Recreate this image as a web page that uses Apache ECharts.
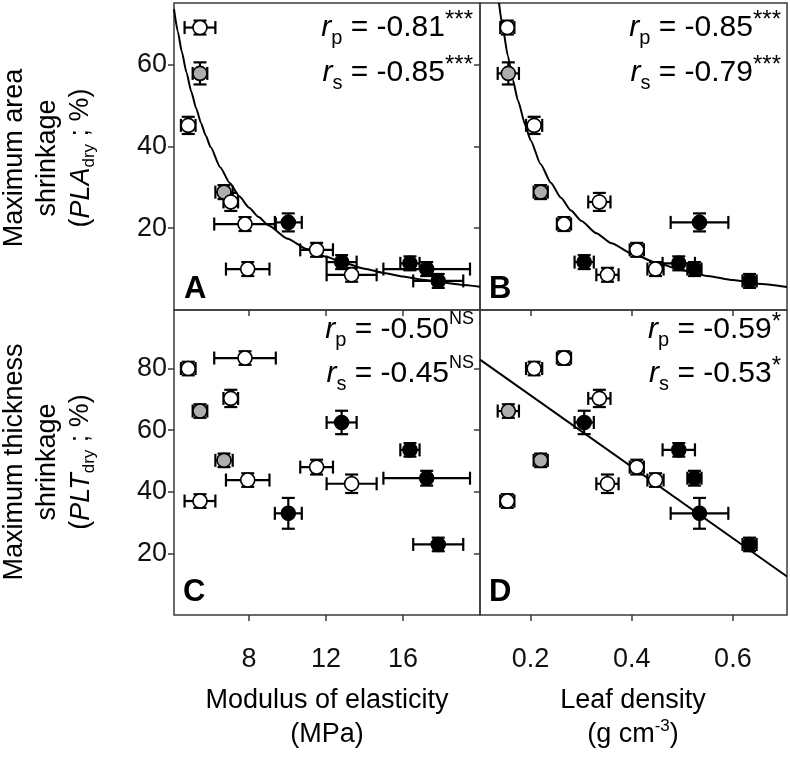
<!DOCTYPE html>
<html><head><meta charset="utf-8">
<script src="https://cdn.jsdelivr.net/npm/echarts@6/dist/echarts.min.js"></script>
<style>html,body{margin:0;padding:0;background:#fff}#c{width:790px;height:759px}</style>
</head><body><div id="c"></div>
<script>
// ---- data (one entry per species) ----
const fillType   = ['open','gray','open','gray','open','open','black','open','open','black','open','black','black','black'];
const moe        = [5.45, 5.45, 4.84, 6.70, 7.05, 7.79, 10.04, 7.93, 11.51, 12.81, 13.33, 16.36, 17.23, 17.83];
const moeErr     = [0.80, 0.38, 0.38, 0.45, 0.38, 1.60, 0.70, 1.13, 0.85, 0.78, 1.30, 0.50, 2.25, 1.30];
const density    = [0.154,0.156,0.207,0.220,0.336,0.266,0.534,0.447,0.410,0.306,0.352,0.493,0.524,0.633];
const densityErr = [0.014,0.021,0.016,0.014,0.022,0.014,0.057,0.016,0.014,0.019,0.022,0.032,0.014,0.014];
const pla        = [69.0, 57.8, 45.1, 28.8, 26.4, 21.0, 21.4, 10.0, 14.7, 11.7, 8.6, 11.4, 10.0, 7.1];
const plaErr     = [1.7, 2.7, 2.1, 1.7, 2.2, 1.7, 2.2, 1.7, 1.7, 1.7, 1.7, 1.7, 1.7, 1.7];
const plt        = [37.0, 66.2, 80.0, 50.2, 70.3, 83.4, 33.0, 43.8, 48.0, 62.5, 42.6, 53.6, 44.4, 22.9];
const pltErr     = [2.2, 2.2, 2.2, 2.2, 2.8, 2.2, 5.0, 2.2, 2.4, 3.8, 3.0, 2.2, 2.4, 2.2];
// fitted curves
const curveAx = [4.1, 4.3, 4.5, 4.75, 5, 5.25, 5.5, 5.75, 6, 6.5, 7, 7.5, 8, 8.5, 9, 10, 11, 12, 13, 14, 15, 16, 17, 18, 19, 20];
const curveAy = [73.5, 68.0, 63.2, 58.0, 53.3, 49.3, 45.7, 42.6, 39.8, 34.9, 31.0, 27.7, 25.0, 22.7, 20.7, 17.4, 14.9, 13.0, 11.4, 10.1, 9.06, 8.2, 7.4, 6.75, 6.19, 5.7];
const curveBx = [0.1376, 0.145, 0.155, 0.165, 0.175, 0.19, 0.2, 0.22, 0.24, 0.26, 0.28, 0.3, 0.33, 0.36, 0.4, 0.45, 0.5, 0.55, 0.6, 0.65, 0.707];
const curveBy = [75, 69.0, 62.1, 56.2, 51.2, 45.0, 41.5, 35.6, 31.1, 27.4, 24.3, 21.8, 18.75, 16.3, 13.8, 11.5, 9.7, 8.3, 7.3, 6.4, 5.6];
const lineDx  = [0.1, 0.707];
const lineDy  = [82.9, 12.5];
// ticks
const moeTicks = [8, 12, 16];
const densTicks = [0.2, 0.4, 0.6];
const plaTicks = [20, 40, 60];
const pltTicks = [20, 40, 60, 80];

const FONT = "'Liberation Sans', Arial, sans-serif";
const FILL = {open:'#ffffff', gray:'#aeaeae', black:'#000000'};
const BORDER = '#3a3a3a';

function errData(xs, xe, ys, ye){ return xs.map((x,i)=>[x, ys[i], xe[i], ye[i]]); }
function scatterData(xs, ys){ return xs.map((x,i)=>({value:[x, ys[i]], itemStyle:{color:FILL[fillType[i]]}})); }
function pts(xs, ys){ return xs.map((x,i)=>[x, ys[i]]); }
function renderErr(params, api){
  const x=api.value(0), y=api.value(1), dx=api.value(2), dy=api.value(3);
  const c=api.coord([x,y]), l=api.coord([x-dx,y]), r=api.coord([x+dx,y]);
  const t=api.coord([x,y+dy]), b=api.coord([x,y-dy]);
  const cap=6.5, st={stroke:'#000', lineWidth:2.2};
  const L=(x1,y1,x2,y2)=>({type:'line', shape:{x1,y1,x2,y2}, style:st});
  return {type:'group', children:[
    L(l[0],c[1],r[0],c[1]), L(l[0],c[1]-cap,l[0],c[1]+cap), L(r[0],c[1]-cap,r[0],c[1]+cap),
    L(c[0],t[1],c[0],b[1]), L(c[0]-cap,t[1],c[0]+cap,t[1]), L(c[0]-cap,b[1],c[0]+cap,b[1])
  ]};
}

const grids = [
  {left:174, top:3,   width:306, height:307},
  {left:480, top:3,   width:307, height:307},
  {left:174, top:310, width:306, height:305},
  {left:480, top:310, width:307, height:305}
].map(g=>Object.assign({show:true, borderColor:BORDER, borderWidth:1.5, backgroundColor:'transparent'}, g));

function xAx(gi, min, max, ticks, labels){
  return {type:'value', gridIndex:gi, min, max, splitLine:{show:false},
    axisLine:{show:false},
    axisTick:{show:true, inside:false, length:6, customValues:ticks, lineStyle:{color:BORDER, width:1.5}},
    axisLabel:{show:labels, customValues:ticks, margin:31, fontSize:27, color:'#111', fontFamily:FONT}};
}
function yAx(gi, min, max, ticks, labels){
  return {type:'value', gridIndex:gi, min, max, splitLine:{show:false},
    axisLine:{show:false},
    axisTick:{show:true, inside:false, length:6, customValues:ticks, lineStyle:{color:BORDER, width:1.5}},
    axisLabel:{show:labels, customValues:ticks, margin:7, fontSize:27, color:'#111', fontFamily:FONT}};
}

const panels = [
  {xs:moe, xe:moeErr, ys:pla, ye:plaErr},
  {xs:density, xe:densityErr, ys:pla, ye:plaErr},
  {xs:moe, xe:moeErr, ys:plt, ye:pltErr},
  {xs:density, xe:densityErr, ys:plt, ye:pltErr}
];
const series = [];
panels.forEach((p,i)=>{
  series.push({type:'custom', xAxisIndex:i, yAxisIndex:i, renderItem:renderErr,
    data:errData(p.xs,p.xe,p.ys,p.ye), encode:{x:0,y:1}, z:3, silent:true});
  series.push({type:'scatter', xAxisIndex:i, yAxisIndex:i, symbol:'circle', symbolSize:14,
    itemStyle:{borderColor:'#000', borderWidth:1.6, opacity:1},
    data:scatterData(p.xs,p.ys), z:4, silent:true});
});
const lineStyle = {color:'#000', width:2};
series.push({type:'line', xAxisIndex:0, yAxisIndex:0, data:pts(curveAx,curveAy), smooth:0.2,
  smoothMonotone:'x', showSymbol:false, lineStyle, z:2, clip:true, silent:true});
series.push({type:'line', xAxisIndex:1, yAxisIndex:1, data:pts(curveBx,curveBy), smooth:0.2,
  smoothMonotone:'x', showSymbol:false, lineStyle, z:2, clip:true, silent:true});
series.push({type:'line', xAxisIndex:3, yAxisIndex:3, data:pts(lineDx,lineDy),
  showSymbol:false, lineStyle, z:2, clip:true, silent:true});

const rich = {
  i:{fontStyle:'italic', fontSize:30, fontFamily:FONT, lineHeight:40, verticalAlign:'middle', color:'#111'},
  n:{fontSize:30, fontFamily:FONT, lineHeight:40, verticalAlign:'middle', color:'#111'},
  sub:{fontSize:20, fontFamily:FONT, lineHeight:13, verticalAlign:'bottom', color:'#111'},
  sup:{fontSize:24, fontFamily:FONT, lineHeight:18, verticalAlign:'top', color:'#111'},
  sup2:{fontSize:18, fontFamily:FONT, lineHeight:16, verticalAlign:'top', color:'#111'}
};
function stat(x, y, sub, val, sig, sigStyle){
  return {type:'text', x, y, z:10, silent:true, style:{
    text:'{i|r}{sub|'+sub+'}{n| = '+val+'}{'+(sigStyle||'sup')+'|'+sig+'}', rich,
    align:'right', verticalAlign:'middle', textAlign:'right', textVerticalAlign:'middle'}};
}
function letter(x, y, t){
  return {type:'text', x, y, z:10, silent:true, style:{text:t, fontSize:31, fontWeight:'bold', fontFamily:FONT,
    fill:'#000', align:'left', verticalAlign:'middle', textAlign:'left', textVerticalAlign:'middle'}};
}
const trich = {
  n:{fontSize:27, fontFamily:FONT, lineHeight:34, verticalAlign:'middle', color:'#111'},
  i:{fontSize:27, fontFamily:FONT, fontStyle:'italic', lineHeight:34, verticalAlign:'middle', color:'#111'},
  sub:{fontSize:17, fontFamily:FONT, lineHeight:12, verticalAlign:'bottom', color:'#111'},
  sup:{fontSize:17, fontFamily:FONT, lineHeight:12, verticalAlign:'top', color:'#111'}
};
function title(x, y, text, rot){
  return {type:'text', x, y, rotation:rot||0, z:10, silent:true, style:{text, rich:trich,
    align:'center', verticalAlign:'middle', textAlign:'center', textVerticalAlign:'middle'}};
}
const R = Math.PI/2;
const graphic = [
  stat(473, 28, 'p', '-0.81', '***'), stat(473, 73, 's', '-0.85', '***'),
  stat(781, 28, 'p', '-0.85', '***'), stat(781, 73, 's', '-0.79', '***'),
  stat(474, 330, 'p', '-0.50', 'NS', 'sup2'), stat(474, 374, 's', '-0.45', 'NS', 'sup2'),
  stat(781, 330, 'p', '-0.59', '*'), stat(781, 374, 's', '-0.53', '*'),
  letter(184, 289, 'A'), letter(489, 289, 'B'), letter(183, 592, 'C'), letter(489, 592, 'D'),
  title(15, 158, '{n|Maximum area}', R),
  title(48, 158, '{n|shrinkage}', R),
  title(81, 158, '{n|(}{i|PLA}{sub|dry}{n| ; %)}', R),
  title(15, 462, '{n|Maximum thickness}', R),
  title(48, 462, '{n|shrinkage}', R),
  title(81, 462, '{n|(}{i|PLT}{sub|dry}{n| ; %)}', R),
  title(327, 701, '{n|Modulus of elasticity}'),
  title(327, 735, '{n|(MPa)}'),
  title(633, 701, '{n|Leaf density}'),
  title(633, 735, '{n|(g cm}{sup|-3}{n|)}')
];

const chart = echarts.init(document.getElementById('c'), null, {renderer:'canvas'});
chart.setOption({
  animation:false,
  backgroundColor:'#ffffff',
  grid:grids,
  xAxis:[xAx(0,4.1,20,moeTicks,false), xAx(1,0.1,0.707,densTicks,false),
         xAx(2,4.1,20,moeTicks,true), xAx(3,0.1,0.707,densTicks,true)],
  yAxis:[yAx(0,0,75,plaTicks,true), yAx(1,0,75,plaTicks,false),
         yAx(2,0,99,pltTicks,true), yAx(3,0,99,pltTicks,false)],
  series, graphic
});
</script></body></html>
